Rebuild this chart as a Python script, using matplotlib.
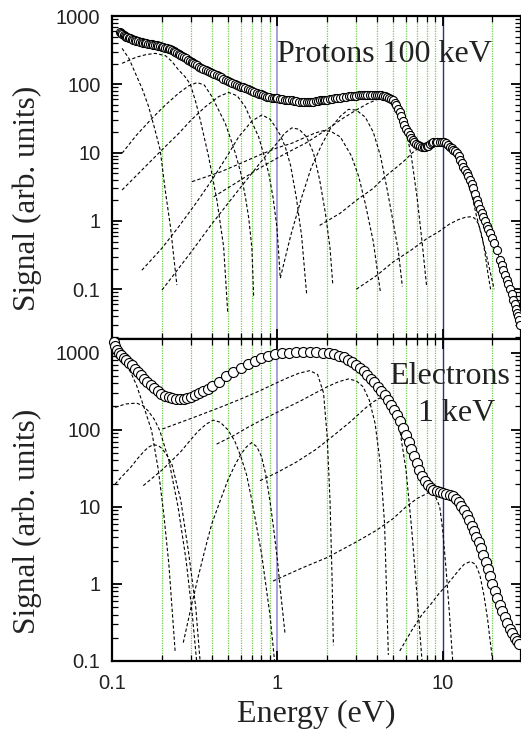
import matplotlib
matplotlib.use('Agg')
import matplotlib.pyplot as plt
from matplotlib.ticker import LogLocator, NullFormatter, FixedLocator, FixedFormatter

# measured signal, protons 100 keV
prot_e = [0.111, 0.113, 0.115, 0.117, 0.119, 0.121, 0.123, 0.126, 0.128, 0.131,
          0.134, 0.137, 0.140, 0.144, 0.147, 0.151, 0.154, 0.158, 0.161, 0.165,
          0.169, 0.173, 0.177, 0.181, 0.186, 0.190, 0.195, 0.200, 0.204, 0.209,
          0.214, 0.219, 0.224, 0.230, 0.235, 0.240, 0.246, 0.252, 0.257, 0.263,
          0.270, 0.278, 0.286, 0.294, 0.303, 0.310, 0.318, 0.326, 0.335, 0.345,
          0.356, 0.367, 0.378, 0.389, 0.40, 0.414, 0.428, 0.441, 0.455, 0.470,
          0.485, 0.500, 0.516, 0.533, 0.55, 0.567, 0.585, 0.603, 0.621, 0.64,
          0.66, 0.68, 0.70, 0.724, 0.748, 0.77, 0.79, 0.815, 0.84, 0.865,
          0.89, 0.92, 0.95, 0.975, 1.0, 1.035, 1.07, 1.105, 1.14, 1.18,
          1.22, 1.26, 1.3, 1.35, 1.4, 1.45, 1.5, 1.55, 1.6, 1.65,
          1.7, 1.75, 1.8, 1.85, 1.9, 1.95, 2.0, 2.07, 2.15, 2.22,
          2.3, 2.4, 2.5, 2.6, 2.7, 2.8, 2.9, 3.0, 3.1, 3.2,
          3.3, 3.4, 3.5, 3.62, 3.75, 3.87, 4.0, 4.12, 4.25, 4.37,
          4.5, 4.62, 4.75, 4.87, 5.0, 5.12, 5.25, 5.37, 5.5, 5.62,
          5.75, 5.87, 6.0, 6.15, 6.3, 6.45, 6.6, 6.75, 6.9, 7.1,
          7.3, 7.5, 7.7, 7.85, 8.0, 8.2, 8.4, 8.6, 8.8, 9.05,
          9.3, 9.6, 9.9, 10.2, 10.5, 10.8, 11.1, 11.35, 11.6, 11.9,
          12.2, 12.5, 12.8, 13.05, 13.3, 13.65, 14.0, 14.3, 14.6, 14.95,
          15.3, 15.7, 16.1, 16.4, 16.8, 17.2, 17.6, 18.0, 18.5, 18.9,
          19.3, 19.9, 20.5, 21.3, 22.2, 22.8, 23.3, 23.8, 24.4, 25.0,
          25.6, 26.2, 26.8, 27.3, 27.8, 28.3, 28.7, 29.1, 29.5]
prot_v = [589, 565, 545, 525, 509, 500, 490, 480, 471, 461,
          452, 443, 435, 427, 420, 413, 406, 401, 397, 393,
          389, 386, 382, 377, 372, 367, 362, 356, 350, 344,
          338, 332, 325, 315, 305, 296, 287, 278, 269, 259,
          250, 240, 230, 221, 212, 204, 196, 189, 182, 176,
          170, 164, 158, 152, 147, 141, 136, 131, 126, 121,
          117, 113, 109, 105, 101, 98, 95, 92, 90, 87,
          85, 82, 80, 77, 75, 73, 71, 69, 68, 66,
          65, 64, 63, 62, 62, 61, 60, 59, 59, 58,
          58, 57, 57, 56, 56, 55, 55, 55, 56, 56,
          57, 57, 58, 58, 58, 58, 59, 60, 61, 62,
          63, 64, 65, 66, 67, 67, 68, 68, 69, 69,
          69, 69, 70, 70, 70, 70, 70, 70, 69, 68,
          67, 65, 63, 61, 58, 54, 49, 44, 39, 34,
          29, 25, 22, 20, 18, 16.5, 15.3, 14.3, 13.5, 12.8,
          12.3, 12.1, 12.0, 12.1, 12.3, 12.7, 13.2, 13.7, 14.2, 14.4,
          14.5, 14.5, 14.5, 14.2, 13.8, 13.0, 12.2, 11.6, 11.0, 10.4,
          9.8, 8.8, 7.8, 7.0, 6.2, 5.6, 5.0, 4.5, 4.0, 3.5,
          3.0, 2.5, 2.0, 1.75, 1.5, 1.3, 1.15, 1.0, 0.85, 0.75,
          0.66, 0.57, 0.48, 0.37, 0.27, 0.23, 0.19, 0.16, 0.136, 0.118,
          0.1, 0.085, 0.07, 0.06, 0.052, 0.045, 0.04, 0.035, 0.03]

# measured signal, electrons 1 keV
elec_e = [0.102, 0.104, 0.107, 0.11, 0.113, 0.117, 0.121, 0.126, 0.131, 0.137,
          0.143, 0.149, 0.156, 0.163, 0.171, 0.179, 0.188, 0.198, 0.208, 0.219,
          0.231, 0.243, 0.256, 0.27, 0.285, 0.30, 0.317, 0.335, 0.355, 0.378,
          0.40, 0.44, 0.49, 0.54, 0.6, 0.66, 0.73, 0.8, 0.88, 0.97,
          1.07, 1.18, 1.3, 1.43, 1.57, 1.72, 1.88, 2.04, 2.2, 2.36,
          2.52, 2.68, 2.84, 3.0, 3.17, 3.34, 3.5, 3.68, 3.86, 4.05,
          4.25, 4.45, 4.65, 4.85, 5.05, 5.27, 5.5, 5.74, 5.98, 6.22,
          6.46, 6.7, 6.96, 7.23, 7.5, 7.8, 8.1, 8.45, 8.8, 9.2,
          9.6, 10.0, 10.5, 11.0, 11.5, 12.0, 12.5, 13.0, 13.5, 14.0,
          14.5, 15.0, 15.5, 16.0, 16.5, 17.0, 17.6, 18.2, 18.8, 19.4,
          20.0, 20.7, 21.4, 22.2, 23.0, 23.8, 24.6, 25.5, 26.4, 27.3,
          28.2, 29.0]
elec_v = [1380, 1200, 1080, 1000, 930, 860, 800, 740, 680, 620,
          560, 510, 460, 420, 380, 345, 315, 292, 275, 262,
          254, 250, 249, 252, 258, 267, 280, 296, 316, 340,
          365, 420, 490, 560, 640, 710, 780, 845, 900, 945,
          975, 995, 1005, 1010, 1010, 1008, 1000, 985, 955, 915,
          865, 810, 750, 690, 630, 570, 515, 460, 410, 362,
          318, 278, 242, 210, 180, 153, 128, 105, 86, 70,
          57, 46, 37, 30, 25, 21.5, 19, 17.5, 16.6, 16.0,
          15.6, 15.2, 14.8, 14.3, 13.6, 12.7, 11.6, 10.3, 9.0, 7.8,
          6.7, 5.7, 4.9, 4.1, 3.5, 2.9, 2.35, 1.9, 1.55, 1.25,
          1.0, 0.8, 0.65, 0.53, 0.44, 0.37, 0.31, 0.26, 0.23, 0.2,
          0.18, 0.165]

# fitted components, protons
pc1 = ([0.1146, 0.126, 0.138, 0.152, 0.166, 0.18, 0.195, 0.209, 0.225, 0.246],
       [336, 240, 145, 85, 47, 23, 10.9, 2.84, 0.82, 0.115])
pc2 = ([0.1146, 0.128, 0.14, 0.16, 0.182, 0.21, 0.23, 0.252, 0.275, 0.297, 0.32, 0.341,
        0.383, 0.43, 0.472, 0.50],
       [203, 228, 250, 272, 284, 262, 215, 162, 130, 100, 55, 30,
        8.7, 2.0, 0.42, 0.045])
pc3 = ([0.1146, 0.14, 0.174, 0.21, 0.252, 0.29, 0.326, 0.36, 0.401, 0.44, 0.483, 0.52,
        0.556, 0.6, 0.639, 0.67, 0.70, 0.718],
       [9.8, 18, 31.8, 50, 74, 95, 106, 98, 66, 42, 26.8, 16,
        9.8, 5, 2.26, 1.1, 0.4, 0.074])
pc4 = ([0.1146, 0.158, 0.2, 0.252, 0.3, 0.366, 0.44, 0.506, 0.57, 0.638, 0.7, 0.769,
        0.83, 0.885, 0.94, 0.993, 1.04],
       [2.84, 6.2, 11, 19, 30, 47, 66, 76, 68, 47, 28, 17,
        9, 5.0, 2.2, 0.8, 0.145])
pc5 = ([0.151, 0.2, 0.252, 0.32, 0.401, 0.49, 0.582, 0.70, 0.805, 0.9, 0.97, 1.04,
        1.114, 1.2, 1.3, 1.4, 1.5],
       [0.19, 0.4, 0.82, 1.8, 3.97, 8.5, 17, 29, 35.6, 31, 24, 18,
        12.2, 6.5, 2.2, 0.6, 0.087])
pc6 = ([0.2, 0.3, 0.4, 0.55, 0.7, 0.85, 1.0, 1.1, 1.22, 1.35, 1.5, 1.65, 1.8, 1.95,
        2.08, 2.16],
       [0.0975, 0.35, 0.9, 2.4, 5.0, 9, 14, 19, 23, 22, 17, 10, 4, 1.3,
        0.4, 0.12])
pc7 = ([0.304, 0.45, 0.6, 0.8, 1.0, 1.22, 1.45, 1.7, 1.9, 2.1, 2.4, 2.8, 3.1, 3.4,
        3.8, 4.2],
       [3.76, 5.2, 7.0, 9.5, 11.8, 13.7, 16.5, 19.5, 21, 20.5, 17, 9, 4.5, 1.8,
        0.5, 0.09])
pc8 = ([0.411, 0.55, 0.78, 1.1, 1.5, 2.0, 2.5, 3.0, 3.5, 4.0, 4.58, 5.0, 5.4, 6.0,
        6.5, 7.0, 7.5, 8.0],
       [2.26, 3.5, 5.95, 9.5, 14, 22, 32, 42, 52, 60, 66, 62, 48, 22,
        8, 2.2, 0.5, 0.109])
pc11 = ([1.04, 1.2, 1.4, 1.6, 1.85, 2.1, 2.4, 2.69, 3.0, 3.4, 3.8, 4.2, 4.6, 5.0,
         5.4, 5.7],
        [0.146, 0.6, 2.2, 6.0, 13, 23, 34, 43, 42, 33, 20, 9, 3, 1.0,
         0.35, 0.11])
pc9 = ([1.8, 2.4, 3.0, 3.8, 4.5, 5.3, 6.0, 6.5, 7.1, 7.8, 8.5, 9.3, 10.0, 11.0, 12.0,
        13.0, 14.0, 15.0, 16.0, 17.2, 18.5, 19.5, 20.5],
       [0.86, 1.3, 2.0, 3.0, 4.5, 6.2, 8.0, 9.8, 11.5, 12.5, 13.0, 13.0, 12.5, 11.0, 8.5,
        6.0, 4.0, 2.4, 1.2, 0.6, 0.3, 0.17, 0.1])
pc10 = ([3.0, 4.0, 5.0, 6.5, 8.0, 9.5, 11.0, 12.5, 13.7, 14.7, 15.6, 16.5, 17.3, 18.0,
         18.8, 19.5],
        [0.1, 0.16, 0.25, 0.38, 0.55, 0.7, 0.9, 1.05, 1.13, 1.15, 1.1, 0.9, 0.6, 0.35,
         0.17, 0.1])

# fitted components, electrons
ec1 = ([0.104, 0.112, 0.12, 0.13, 0.14, 0.155, 0.173, 0.19, 0.205, 0.22, 0.24],
       [1000, 860, 720, 540, 380, 200, 97, 30, 8, 1.8, 0.135])
ec2 = ([0.104, 0.112, 0.12, 0.13, 0.141, 0.153, 0.165, 0.18, 0.194, 0.22, 0.25,
        0.28, 0.305, 0.324],
       [195, 205, 215, 219, 220, 205, 175, 135, 97, 40, 10,
        2, 0.4, 0.1])
ec3 = ([0.104, 0.115, 0.13, 0.142, 0.155, 0.165, 0.177, 0.19, 0.2, 0.215, 0.23,
        0.26, 0.29, 0.32, 0.34],
       [19.7, 25, 33, 42, 52, 59, 64, 62, 57, 46, 35,
        12, 2.5, 0.5, 0.1])
ec4 = ([0.154, 0.2, 0.23, 0.26, 0.295, 0.33, 0.37, 0.408, 0.45, 0.5, 0.55, 0.6,
        0.65, 0.7, 0.8, 0.9, 0.96],
       [18.8, 30, 40, 52, 72, 95, 118, 133, 125, 100, 72, 45,
        26, 12, 2.5, 0.4, 0.1])
ec5 = ([0.269, 0.3, 0.33, 0.37, 0.4, 0.45, 0.5, 0.55, 0.6, 0.65, 0.698, 0.75, 0.8,
        0.85, 0.9, 0.95, 1.0, 1.05, 1.11],
       [0.173, 0.5, 1.2, 3.2, 6, 12, 22, 34, 48, 60, 68, 60, 45,
        26, 12, 5, 2, 0.7, 0.23])
ec6 = ([0.201, 0.3, 0.45, 0.6, 0.783, 0.95, 1.15, 1.35, 1.57, 1.75, 1.9, 2.0,
        2.08, 2.14, 2.18],
       [102, 140, 195, 250, 320, 390, 470, 540, 583, 520, 300, 80,
        12, 1.2, 0.16])
ec7 = ([0.428, 0.55, 0.65, 0.783, 0.95, 1.15, 1.4, 1.7, 2.0, 2.35, 2.69, 3.0,
        3.3, 3.6, 3.9, 4.2, 4.45, 4.69],
       [65, 85, 105, 130, 160, 195, 240, 300, 360, 420, 455, 430,
        360, 240, 120, 35, 6, 0.12])
ec8 = ([0.783, 1.0, 1.3, 1.7, 2.2, 2.8, 3.4, 3.8, 4.18, 4.6, 5.0, 5.5, 6.0, 6.5,
        7.0, 7.5],
       [21.8, 28, 38, 55, 85, 130, 190, 230, 258, 240, 190, 100, 30, 5,
        0.7, 0.1])
ec9 = ([0.94, 1.4, 2.0, 3.0, 4.0, 5.0, 6.0, 7.0, 8.3, 9.0, 9.6, 10.0, 10.5, 11.0,
        11.5],
       [1.09, 1.6, 2.2, 3.5, 5.0, 7.0, 10.0, 12.8, 15.4, 14.0, 10.0, 5.0, 1.5, 0.4,
        0.1])
ec10 = ([5.5, 6.5, 7.5, 8.5, 9.5, 10.5, 11.5, 12.5, 13.5, 14.7, 15.8, 16.8, 17.8,
         18.7, 19.4, 20.1],
        [0.135, 0.25, 0.4, 0.55, 0.75, 0.95, 1.2, 1.5, 1.8, 1.95, 1.8, 1.3, 0.7,
         0.35, 0.18, 0.1])

green_lines = [0.2, 0.3, 0.4, 0.5, 0.6, 0.7, 0.8, 0.9, 2, 3, 4, 5, 6, 7, 8, 9, 20]

prot_parts = [pc1, pc2, pc3, pc4, pc5, pc6, pc7, pc8, pc11, pc9, pc10]
elec_parts = [ec1, ec2, ec3, ec4, ec5, ec6, ec7, ec8, ec9, ec10]

SANS = 'Liberation Sans'
SERIF = 'Liberation Serif'

fig = plt.figure(figsize=(5.21, 7.30), dpi=100)
W, H = 521.0, 730.0
ax1 = fig.add_axes([112.3 / W, 1 - 339 / H, 1 - 112.3 / W, (339 - 16) / H])
ax2 = fig.add_axes([112.3 / W, 1 - 661 / H, 1 - 112.3 / W, (661 - 339) / H])


def style(ax, ylo, yhi):
    ax.set_xscale('log')
    ax.set_yscale('log')
    ax.set_xlim(0.1, 29.8)
    ax.set_ylim(ylo, yhi)
    for v in green_lines:
        ax.axvline(v, color='#6ccf4c', ls=(0, (1, 1)), lw=0.9, zorder=1)
    ax.axvline(1, color='#9c9cd4', lw=1.3, zorder=1)
    ax.axvline(10, color='#2e2e86', lw=1.0, zorder=1)
    for s in ax.spines.values():
        s.set_linewidth(1.6)
    ax.tick_params(which='both', direction='in', top=True, right=True)
    ax.tick_params(which='major', length=7, width=1.3, labelsize=14.5,
                   labelcolor='#222222')
    ax.tick_params(axis='y', which='major', pad=8.5)
    ax.tick_params(axis='x', which='major', pad=9.5)
    ax.tick_params(which='minor', length=4, width=0.9)
    ax.yaxis.set_major_locator(FixedLocator([0.1, 1, 10, 100, 1000]))
    ax.yaxis.set_major_formatter(FixedFormatter(['0.1', '1', '10', '100', '1000']))
    ax.yaxis.set_minor_locator(LogLocator(base=10, subs=range(2, 10), numticks=20))
    ax.yaxis.set_minor_formatter(NullFormatter())
    ax.xaxis.set_major_locator(FixedLocator([0.1, 1, 10]))
    ax.xaxis.set_major_formatter(FixedFormatter(['0.1', '1', '10']))
    ax.xaxis.set_minor_locator(LogLocator(base=10, subs=range(2, 10), numticks=20))
    ax.xaxis.set_minor_formatter(NullFormatter())
    for lab in ax.get_xticklabels() + ax.get_yticklabels():
        lab.set_family(SANS)
    ax.set_ylabel('Signal (arb. units)', family=SERIF, fontsize=22.5,
                  color='#222222')
    ax.yaxis.set_label_coords(-0.172, 0.434)


style(ax1, 0.0187, 1000)
style(ax2, 0.1, 1500)
ax1.tick_params(labelbottom=False)

for e, v in prot_parts:
    ax1.plot(e, v, color='black', ls=(0, (3, 2)), lw=0.8, zorder=2)
for e, v in elec_parts:
    ax2.plot(e, v, color='black', ls=(0, (3, 2)), lw=0.8, zorder=2)

ax1.plot(prot_e, prot_v, color='black', lw=0.6, marker='o', ms=5.8,
         mfc='white', mec='black', mew=0.8, zorder=3, clip_on=False)
ax2.plot(elec_e, elec_v, color='black', lw=0.8, marker='o', ms=7.2,
         mfc='white', mec='black', mew=0.8, zorder=3, clip_on=False)

ax1.text(1.0, 212, 'Protons 100 keV', family=SERIF, fontsize=23,
         ha='left', va='baseline', color='#222222')
ax2.text(25.5, 395, 'Electrons', family=SERIF, fontsize=23,
         ha='right', va='baseline', color='#222222')
ax2.text(20.7, 131, '1 keV', family=SERIF, fontsize=23,
         ha='right', va='baseline', color='#222222')

ax2.set_xlabel('Energy (eV)', family=SERIF, fontsize=23, labelpad=5,
               color='#222222')

fig.savefig('out.png', dpi=100)
